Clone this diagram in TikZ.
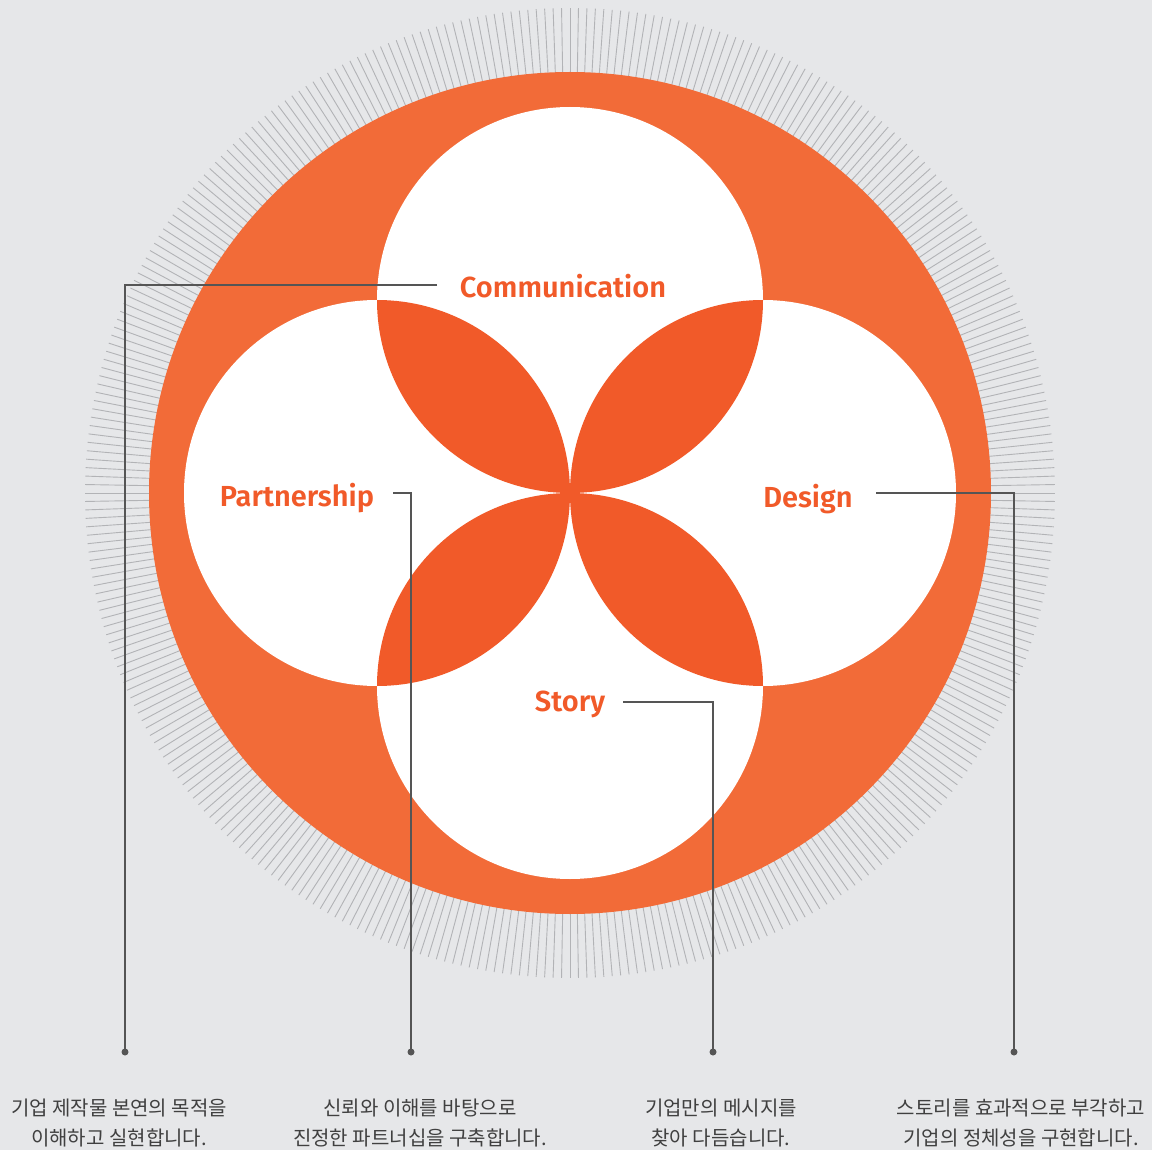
\documentclass[tikz,border=0pt]{standalone}
\usepackage{fontspec}
\setmainfont{Fira Sans}
\newfontfamily\kofont{Noto Sans CJK KR}
\newfontfamily\labfont{Fira Sans SemiBold}
\definecolor{bg}{HTML}{E6E7E9}
\definecolor{orangeA}{HTML}{F26B38}
\definecolor{orangeB}{HTML}{F15A29}
\definecolor{tickc}{HTML}{B2B3B6}
\definecolor{leadc}{HTML}{555555}
\definecolor{txtc}{HTML}{404040}
\begin{document}
\begin{tikzpicture}[x=1pt,y=-1pt,
  lab/.style={font=\labfont\fontsize{29}{30}\selectfont, text=orangeB, inner sep=0pt},
  desc/.style={font=\kofont\fontsize{20}{30}\selectfont, text=txtc, align=center, inner sep=0pt},
  lead/.style={draw=leadc, line width=1.1pt},
  enddot/.style={circle, fill=leadc, minimum size=7pt, inner sep=0pt}]
\useasboundingbox (0,0) rectangle (1152,1150);
\fill[bg] (0,0) rectangle (1152,1150);
\coordinate (c) at (570,493);
% ticks
\foreach \a in {0,...,359}
  \draw[tickc, line width=0.9pt] ([shift={(\a:400pt)}]c) -- ([shift={(\a:485pt)}]c);
% big orange disc
\fill[orangeA] (c) circle[radius=421pt];
% white circles
\coordinate (ct) at (570,300);
\coordinate (cl) at (377,493);
\coordinate (cr) at (763,493);
\coordinate (cb) at (570,686);
\foreach \p in {ct,cl,cr,cb}
  \fill[white] (\p) circle[radius=193pt];
% lenses
\foreach \p/\q in {ct/cl,ct/cr,cb/cl,cb/cr}{
  \begin{scope}
    \clip (\p) circle[radius=193pt];
    \fill[orangeB] (\q) circle[radius=193pt];
  \end{scope}}
% labels
\node[lab] (comm) at (563,286) {Communication};
\node[lab] (part) at (297,498) {Partnership};
\node[lab] (des) at (808,499) {Design};
\node[lab] (sto) at (570,704) {Story};
% leader endpoints
\coordinate (cs) at (437,285);
\coordinate (ps) at (393,493);
\coordinate (ss) at (623,702);
\coordinate (ds) at (876,493);
\node[enddot] (d1) at (125,1052) {};
\node[enddot] (d2) at (411,1052) {};
\node[enddot] (d3) at (713,1052) {};
\node[enddot] (d4) at (1014,1052) {};
\draw[lead] (cs) -| (d1.center);
\draw[lead] (ps) -| (d2.center);
\draw[lead] (ss) -| (d3.center);
\draw[lead] (ds) -| (d4.center);
% descriptions
\node[desc] (t1) at (119,1123) {기업 제작물 본연의 목적을\\이해하고 실현합니다.};
\node[desc] (t2) at (420,1123) {신뢰와 이해를 바탕으로\\진정한 파트너십을 구축합니다.};
\node[desc] (t3) at (721,1123) {기업만의 메시지를\\찾아 다듬습니다.};
\node[desc] (t4) at (1021,1123) {스토리를 효과적으로 부각하고\\기업의 정체성을 구현합니다.};
\end{tikzpicture}
\end{document}
